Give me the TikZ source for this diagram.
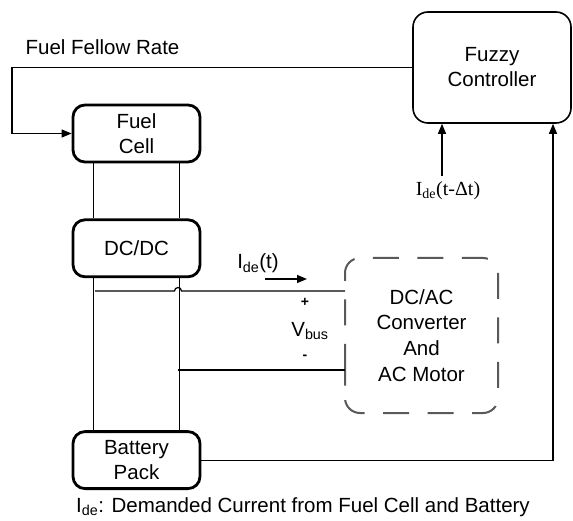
\documentclass[tikz,border=0pt]{standalone}
\usepackage{fontspec}
\setmainfont{Liberation Sans}
\newfontfamily\serifface{Liberation Serif}
\usepackage{tikz}
\usetikzlibrary{arrows.meta, positioning}

\begin{document}
\begin{tikzpicture}[
  x=1pt, y=-1pt,
  font=\fontsize{20.5}{25}\selectfont,
  block/.style={draw, line width=2.8pt, rounded corners=12pt, minimum width=127pt, minimum height=57pt, align=center, inner sep=0pt},
  ctrl/.style={draw, line width=1.6pt, rounded corners=15pt, minimum width=158pt, minimum height=111pt, align=center},
  load/.style={minimum width=153pt, minimum height=155pt, outer sep=0pt, align=center, font=\fontsize{20.5}{25.7}\selectfont},
  loadline/.style={draw=black!65, line width=2pt, dash pattern=on 26pt off 18.5pt, rounded corners=15pt},
  wire/.style={line width=1.2pt},
  arrow/.style={wire, -{Triangle[length=10pt, width=8pt]}},
  sign/.style={font=\fontsize{14}{14}\selectfont\bfseries, inner sep=0pt}
]
  \useasboundingbox (0,0) rectangle (573,521);

  \node[block] (fc) at (136.5,133.5) {Fuel\\Cell};
  \node[block, below=55pt of fc] (dcdc) {DC/DC};
  \node[block, below=152pt of dcdc] (bat) {Battery\\Pack};
  \node[ctrl] (fz) at (492,67.5) {Fuzzy\\Controller};
  \node[load] (dcac) at (421.5,335.5) {DC/AC\\Converter\\And\\AC Motor};
  \draw[loadline] ([yshift=-49.5pt]dcac.west) |- (dcac.north east) |- (dcac.south west) -- cycle;

  % feedback from the controller to the fuel cell
  \node (ffr) at (102.5,47) {Fuel Fellow Rate};
  \coordinate (turn) at (12,67.5);
  \draw[arrow] (fz.west) -- (turn) |- (fc.west);

  % dc rails
  \draw[wire] ([xshift=22pt]fc.south west) -- ([xshift=22pt]dcdc.north west);
  \draw[wire] ([xshift=-22pt]fc.south east) -- ([xshift=-22pt]dcdc.north east);
  \draw[wire] ([xshift=22pt]dcdc.south west) -- ([xshift=22pt]bat.north west);
  \draw[wire] ([xshift=-22pt]dcdc.south east) -- ([xshift=-22pt]bat.north east);

  % bus to the load
  \coordinate (pbus) at (95,291);
  \coordinate (hop) at (178,291);
  \coordinate (mbus) at (178,370);
  \draw[wire] (pbus) -- ([xshift=-3.5pt]hop) arc[start angle=180, end angle=0, radius=3.5pt] -- (pbus -| dcac.west);
  \draw[wire] (mbus) -- (mbus -| dcac.west);

  \node (ide) at (258,263.5) {I\textsubscript{de}(t)};
  \coordinate (ia) at (265,279);
  \coordinate (ib) at (307,279);
  \draw[arrow] (ia) -- (ib);
  \node[sign] (plus) at (305,302) {+};
  \node (vbus) at (310,331) {V\textsubscript{bus}};
  \node[sign] (minus) at (305,357) {-};

  % measurements to the controller
  \node[font=\serifface\fontsize{20}{22}\selectfont] (dlbl) at (448,191) {I\textsubscript{de}(t-Δt)};
  \coordinate (dtop) at (442,176);
  \draw[arrow] (dtop) -- (dtop |- fz.south);
  \draw[arrow] (bat.east) -| ([xshift=61pt]fz.south);

  \node (note) at (303,507) {I\textsubscript{de}: Demanded Current from Fuel Cell and Battery};
\end{tikzpicture}
\end{document}
